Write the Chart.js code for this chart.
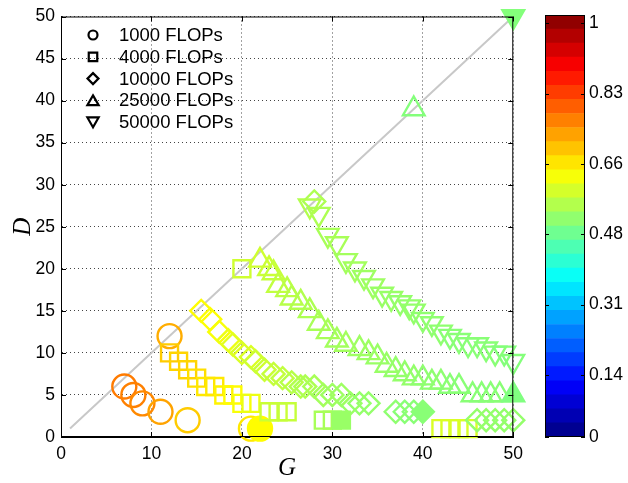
<!DOCTYPE html>
<html><head><meta charset="utf-8">
<script src="https://cdn.jsdelivr.net/npm/chart.js@4.4.1/dist/chart.umd.min.js"></script>
<style>
html,body{margin:0;padding:0;background:#fff;}
#wrap{position:relative;width:628px;height:483px;overflow:hidden;}
#main{position:absolute;left:0;top:0;}
#cb{position:absolute;left:530px;top:0;}
</style></head><body>
<div id="wrap"><canvas id="main" width="530" height="483"></canvas><canvas id="cb" width="98" height="483"></canvas></div>
<script>
// ---- data ----
const seriesNames = ['1000 FLOPs','4000 FLOPs','10000 FLOPs','25000 FLOPs','50000 FLOPs'];

const circG = [7, 8, 9, 11, 14, 12, 21, 22];
const circD = [6, 5, 4, 3, 2, 12, 1, 1];
const circV = [0.77, 0.765, 0.755, 0.73, 0.69, 0.72, 0.66, 0.64];
const circF = [0, 0, 0, 0, 0, 0, 0, 1];

const sqG = [12, 13, 14, 15, 16, 17, 18, 19, 20, 21, 23, 24, 25, 20, 29, 30, 31, 42, 43, 44, 45];
const sqD = [10, 9, 8, 7, 6, 6, 5, 5, 4, 4, 3, 3, 3, 20, 2, 2, 2, 1, 1, 1, 1];
const sqV = [0.69, 0.68, 0.68, 0.67, 0.66, 0.66, 0.65, 0.64, 0.63, 0.62, 0.585, 0.585, 0.58, 0.59, 0.55, 0.55, 0.535, 0.60, 0.60, 0.60, 0.60];
const sqF = [0, 0, 0, 0, 0, 0, 0, 0, 0, 0, 0, 0, 0, 0, 0, 0, 1, 0, 0, 0, 0];

const diaG = [15.5, 16.5, 17.5, 18.5, 19, 20, 21, 21.5, 22.5, 23.5, 24.5, 25.5, 26.5, 27, 28, 29, 30, 31, 32, 33, 34, 37, 38, 39, 40, 46, 47, 48, 49, 50, 28];
const diaD = [15, 14, 12.5, 11.5, 11, 10, 9.5, 9, 8, 7.5, 7, 6.5, 6, 6, 6, 5, 5, 5, 4, 4, 4, 3, 3, 3, 3, 2, 2, 2, 2, 2, 28];
const diaV = [0.64, 0.635, 0.63, 0.62, 0.61, 0.60, 0.60, 0.59, 0.585, 0.58, 0.575, 0.565, 0.56, 0.555, 0.55, 0.545, 0.54, 0.54, 0.535, 0.53, 0.53, 0.525, 0.52, 0.52, 0.52, 0.53, 0.53, 0.53, 0.53, 0.53, 0.555];
const diaF = [0,0,0,0,0,0,0,0,0,0,0,0,0,0,0,0,0,0,0,0,0,0,0,0,1,0,0,0,0,0,0];

const triG = [22, 23, 23.5, 24, 25, 25.5, 26.5, 27.5, 28.5, 29.5, 30.5, 31.5, 33, 34, 35, 36, 37, 38, 39, 40, 41, 42, 43, 44, 45.5, 46.5, 47.5, 48.5, 50, 39];
const triD = [21, 20, 19.5, 18, 17.5, 16.5, 16, 15, 13.5, 12.5, 11.5, 11, 10.5, 10, 9.5, 8.5, 8, 7.5, 7, 7, 6.5, 6.5, 6, 6, 5, 5, 5, 5, 5, 39];
const triV = [0.59, 0.585, 0.58, 0.575, 0.57, 0.565, 0.56, 0.555, 0.55, 0.55, 0.545, 0.545, 0.54, 0.54, 0.535, 0.535, 0.53, 0.53, 0.53, 0.525, 0.525, 0.525, 0.52, 0.52, 0.52, 0.52, 0.52, 0.52, 0.51, 0.515];
const triF = [0,0,0,0,0,0,0,0,0,0,0,0,0,0,0,0,0,0,0,0,0,0,0,0,0,0,0,0,1,0];

const invG = [27.5, 28.5, 29.5, 30.5, 31.5, 32.5, 33.5, 34.5, 35.5, 36.5, 37.5, 38.5, 39, 40, 41, 42, 43, 44, 45, 46, 47, 48, 49, 50, 50];
const invD = [27.5, 26.5, 24, 23, 21, 20, 19, 18, 17, 16.5, 16, 15.5, 15, 14, 13.5, 12.5, 12, 11.5, 11, 11, 10.5, 10, 10, 9, 50];
const invV = [0.56, 0.555, 0.55, 0.55, 0.545, 0.545, 0.54, 0.54, 0.535, 0.535, 0.53, 0.53, 0.53, 0.525, 0.525, 0.525, 0.52, 0.52, 0.52, 0.52, 0.52, 0.52, 0.515, 0.515, 0.515];
const invF = [0,0,0,0,0,0,0,0,0,0,0,0,0,0,0,0,0,0,0,0,0,0,0,0,1];

const diagG = [1, 50];
const diagD = [1, 50];

const xTicks = [0, 10, 20, 30, 40, 50];
const yTicks = [0, 5, 10, 15, 20, 25, 30, 35, 40, 45, 50];
const cbMax = 1.02;
const cbBands = 30;
const cbTickPos = [0, 0.15, 0.32, 0.49, 0.66, 0.83, 1.0];
const cbTickLabels = ['0', '0.14', '0.31', '0.48', '0.66', '0.83', '1'];

// ---- helpers ----
function jet(v) {
  const c = x => Math.max(0, Math.min(1, x));
  const r = c(1.5 - Math.abs(4 * v - 3)), g = c(1.5 - Math.abs(4 * v - 2)), b = c(1.5 - Math.abs(4 * v - 1));
  return 'rgb(' + Math.round(r * 255) + ',' + Math.round(g * 255) + ',' + Math.round(b * 255) + ')';
}
const colOf = v => jet(v / cbMax);
const pts = (G, D) => G.map((g, i) => ({x: g, y: D[i]}));

const TICKFONT = {family: '"Liberation Sans", Arial, sans-serif', size: 17.5};

function mkSet(label, G, D, V, F, style, rot, radius) {
  return {
    type: 'scatter', label: label, data: pts(G, D), clip: false,
    pointStyle: style, rotation: rot, pointRotation: rot, pointRadius: radius, pointHoverRadius: radius,
    borderWidth: 2.4, pointBorderWidth: 2.4,
    pointBorderColor: ctx => colOf(V[ctx.dataIndex]),
    pointBackgroundColor: ctx => F[ctx.dataIndex] ? colOf(V[ctx.dataIndex]) : 'rgba(0,0,0,0)',
    order: 1, showLine: false
  };
}

const sets = [
  {type: 'line', label: 'diag', data: pts(diagG, diagD), borderColor: '#c8c8c8', borderWidth: 2, pointRadius: 0, order: 10, fill: false, clip: false},
  mkSet(seriesNames[4], invG, invD, invV, invF, 'triangle', 180, 12.5),
  mkSet(seriesNames[3], triG, triD, triV, triF, 'triangle', 0, 12.5),
  mkSet(seriesNames[2], diaG, diaD, diaV, diaF, 'rectRot', 0, 11),
  mkSet(seriesNames[1], sqG, sqD, sqV, sqF, 'rect', 0, 12),
  mkSet(seriesNames[0], circG, circD, circV, circF, 'circle', 0, 12)
];

const legendStyles = [['circle', 0, 4.5], ['rect', 0, 6], ['rectRot', 0, 5.5], ['triangle', 0, 6.5], ['triangle', 180, 6.5]];

const framePlugin = {
  id: 'frame',
  afterDatasetsDraw(chart) {
    const ctx = chart.ctx, a = chart.chartArea, sx = chart.scales.x, sy = chart.scales.y;
    ctx.save();
    ctx.strokeStyle = '#000'; ctx.lineWidth = 1;
    ctx.strokeRect(a.left + 0.5, a.top + 0.5, a.right - a.left - 1, a.bottom - a.top - 1);
    ctx.beginPath();
    xTicks.forEach(v => {
      const p = Math.round(sx.getPixelForValue(v)) + 0.5;
      ctx.moveTo(p, a.bottom); ctx.lineTo(p, a.bottom - 5);
      ctx.moveTo(p, a.top); ctx.lineTo(p, a.top + 5);
    });
    yTicks.forEach(v => {
      const p = Math.round(sy.getPixelForValue(v)) + 0.5;
      ctx.moveTo(a.left, p); ctx.lineTo(a.left + 5, p);
      ctx.moveTo(a.right, p); ctx.lineTo(a.right - 5, p);
    });
    ctx.stroke();
    // legend inside the plot area
    ctx.font = '18.5px "Liberation Sans", Arial, sans-serif';
    ctx.textBaseline = 'middle';
    seriesNames.forEach((n, i) => {
      const y = 35 + i * 21.8;
      const st = legendStyles[i];
      ctx.lineWidth = 2.2; ctx.strokeStyle = '#000'; ctx.fillStyle = 'rgba(0,0,0,0)';
      Chart.helpers.drawPoint(ctx, {pointStyle: st[0], rotation: st[1], radius: st[2], borderWidth: 2.2}, 93, y + (st[0] === 'triangle' ? (st[1] ? -1.5 : 1.5) : 0));
      ctx.fillStyle = '#000';
      ctx.fillText(n, 119, y + 1);
    });
    ctx.restore();
  }
};

new Chart(document.getElementById('main'), {
  data: {datasets: sets},
  options: {
    responsive: false, animation: false, devicePixelRatio: 1,
    layout: {padding: {left: 0, top: 15, right: 12, bottom: 0}},
    plugins: {legend: {display: false}, tooltip: {enabled: false}},
    scales: {
      x: {
        type: 'linear', min: 0, max: 50,
        afterBuildTicks: s => { s.ticks = xTicks.map(v => ({value: v})); },
        afterFit: s => { s.height = 46; },
        ticks: {font: TICKFONT, color: '#000', padding: 7, maxRotation: 0},
        grid: {color: '#444', lineWidth: 1, drawTicks: false},
        border: {display: true, color: '#000', dash: [1, 3]},
        title: {display: true, text: 'G', font: {family: '"Liberation Serif", "Times New Roman", serif', size: 25, style: 'italic'}, color: '#000', padding: {top: 0, bottom: 0}}
      },
      y: {
        type: 'linear', min: 0, max: 50,
        afterBuildTicks: s => { s.ticks = yTicks.map(v => ({value: v})); },
        afterFit: s => { s.width = 61; },
        ticks: {font: TICKFONT, color: '#000', padding: 6},
        grid: {color: '#444', lineWidth: 1, drawTicks: false},
        border: {display: true, color: '#000', dash: [1, 3]},
        title: {display: true, text: 'D', font: {family: '"Liberation Serif", "Times New Roman", serif', size: 25, style: 'italic'}, color: '#000', padding: {top: 8, bottom: 0}}
      }
    }
  },
  plugins: [framePlugin]
});

// ---- colorbar ----
const cbSets = [];
for (let i = 0; i < cbBands; i++) {
  cbSets.push({data: [cbMax / cbBands], backgroundColor: jet((i + 0.5) / cbBands), borderWidth: 0, barPercentage: 1, categoryPercentage: 1});
}
const cbFrame = {
  id: 'cbframe',
  afterDatasetsDraw(chart) {
    const ctx = chart.ctx, a = chart.chartArea, sy = chart.scales.y;
    ctx.save();
    ctx.strokeStyle = '#000'; ctx.lineWidth = 1;
    ctx.strokeRect(a.left + 0.5, a.top + 0.5, a.right - a.left - 1, a.bottom - a.top - 1);
    ctx.beginPath();
    cbTickPos.forEach(v => {
      const p = Math.round(sy.getPixelForValue(v)) + 0.5;
      ctx.moveTo(a.left, p); ctx.lineTo(a.left + 4, p);
      ctx.moveTo(a.right, p); ctx.lineTo(a.right - 4, p);
    });
    ctx.stroke();
    ctx.restore();
  }
};
new Chart(document.getElementById('cb'), {
  type: 'bar',
  data: {labels: ['c'], datasets: cbSets},
  options: {
    responsive: false, animation: false, devicePixelRatio: 1,
    layout: {padding: {left: 15, top: 15, right: 0, bottom: 46}},
    plugins: {legend: {display: false}, tooltip: {enabled: false}},
    scales: {
      x: {stacked: true, display: false},
      y: {
        stacked: true, position: 'right', min: 0, max: cbMax,
        afterBuildTicks: s => { s.ticks = cbTickPos.map(v => ({value: v})); },
        afterFit: s => { s.width = 43; },
        ticks: {font: TICKFONT, color: '#000', padding: 4, callback: (v, i) => cbTickLabels[i]},
        grid: {display: false, drawTicks: false},
        border: {display: false}
      }
    }
  },
  plugins: [cbFrame]
});
</script>
</body></html>
